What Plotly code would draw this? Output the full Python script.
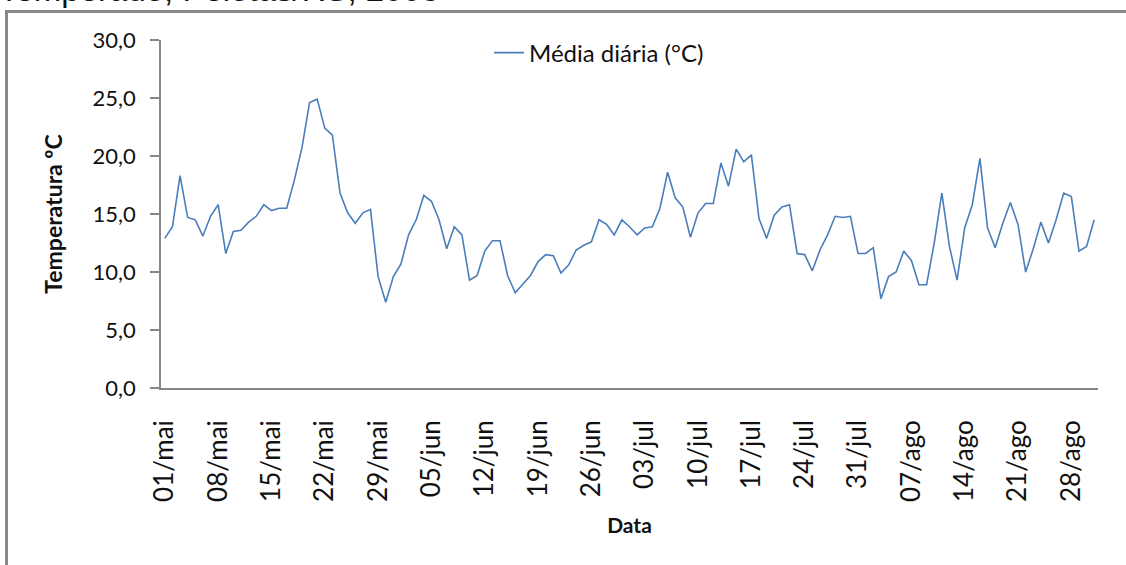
import datetime as dt
import plotly.graph_objects as go

MONTHS_PT = {5: "mai", 6: "jun", 7: "jul", 8: "ago"}
start = dt.date(2008, 5, 1)
dates = [start + dt.timedelta(days=i) for i in range(123)]
categories = [f"{d.day:02d}/{MONTHS_PT[d.month]}" for d in dates]

temperature = [
    12.9, 13.9, 18.3, 14.7, 14.5, 13.1, 14.8, 15.8, 11.6, 13.5,
    13.6, 14.3, 14.8, 15.8, 15.3, 15.5, 15.5, 17.9, 20.7, 24.6,
    24.9, 22.4, 21.8, 16.8, 15.1, 14.2, 15.1, 15.4, 9.6, 7.4,
    9.6, 10.7, 13.2, 14.5, 16.6, 16.1, 14.5, 12.0, 13.9, 13.2,
    9.3, 9.7, 11.8, 12.7, 12.7, 9.7, 8.2, 9.0, 9.7, 10.9,
    11.5, 11.4, 9.9, 10.6, 11.9, 12.3, 12.6, 14.5, 14.1, 13.2,
    14.5, 13.9, 13.2, 13.8, 13.9, 15.5, 18.6, 16.4, 15.6, 13.0,
    15.1, 15.9, 15.9, 19.4, 17.4, 20.6, 19.5, 20.1, 14.6, 12.9,
    14.9, 15.6, 15.8, 11.6, 11.5, 10.1, 11.9, 13.2, 14.8, 14.7,
    14.8, 11.6, 11.6, 12.1, 7.7, 9.6, 10.0, 11.8, 11.0, 8.9,
    8.9, 12.5, 16.8, 12.2, 9.3, 13.8, 15.8, 19.8, 13.8, 12.1,
    14.2, 16.0, 14.1, 10.0, 12.0, 14.3, 12.5, 14.5, 16.8, 16.5,
    11.8, 12.2, 14.5,
]

tick_labels = categories[::7]
y_ticks = [0, 5, 10, 15, 20, 25, 30]

series_name = "Média diária (°C)"
title_text = "Temperado, Pelotas/RS, 2008"
x_title = "Data"
y_title = "Temperatura ºC"

W, H = 1126, 565
L, R, T, B = 161, 28, 40, 177
pw, ph = W - L - R, H - T - B

def px_x(p):
    return (p - L) / pw

def px_y(p):
    return (H - B - p) / ph

FONT = "Lato, 'Open Sans', sans-serif"
AXC = "#868686"

fig = go.Figure()
fig.add_trace(go.Scatter(
    x=categories, y=temperature, mode="lines", name=series_name,
    line=dict(color="#4A7EBB", width=1.6),
))

fig.update_layout(
    width=W, height=H,
    margin=dict(l=L, r=R, t=T, b=B, pad=0),
    paper_bgcolor="white", plot_bgcolor="white",
    separators=",.",
    showlegend=True,
    legend=dict(
        x=px_x(489), y=px_y(53), xanchor="left", yanchor="middle",
        bgcolor="rgba(0,0,0,0)", font=dict(family=FONT, size=24, color="#111"),
        itemwidth=30,
    ),
    xaxis=dict(
        type="category", range=[-0.5, 122.5],
        tickmode="array", tickvals=tick_labels, ticktext=tick_labels,
        tickangle=-90, showgrid=False, zeroline=False,
        showline=True, linecolor=AXC, linewidth=1.5,
        ticks="", ticklabelstandoff=20,
        tickfont=dict(family=FONT, size=26, color="#111"),
        title=dict(text=f"<b>{x_title}</b>", font=dict(family=FONT, size=21, color="#111"), standoff=17),
    ),
    yaxis=dict(
        range=[0, 30], tickvals=y_ticks, tickformat=".1f",
        showgrid=False, zeroline=False,
        showline=True, linecolor=AXC, linewidth=1.5,
        ticks="outside", ticklen=9, tickcolor=AXC, tickwidth=1.5,
        ticklabelstandoff=10,
        tickfont=dict(family=FONT, size=22, color="#111"),
        title=dict(text=f"<b>{y_title}</b>", font=dict(family=FONT, size=23, color="#111"), standoff=24),
    ),
    shapes=[dict(
        type="rect", xref="paper", yref="paper",
        x0=px_x(6.5), x1=px_x(1160), y0=px_y(11.5), y1=px_y(620),
        line=dict(color="#888888", width=3), fillcolor="rgba(0,0,0,0)", layer="below",
    )],
    annotations=[dict(
        text=title_text, xref="paper", yref="paper",
        x=px_x(-3), y=px_y(-10), xanchor="left", yanchor="middle",
        showarrow=False, font=dict(family="'Liberation Sans', Arial, sans-serif", size=33, color="#111"),
    )],
)

fig.write_html(
    "out.html",
    config={"displayModeBar": False},
    post_script="document.body.style.margin='0';document.body.style.overflow='hidden';",
)
